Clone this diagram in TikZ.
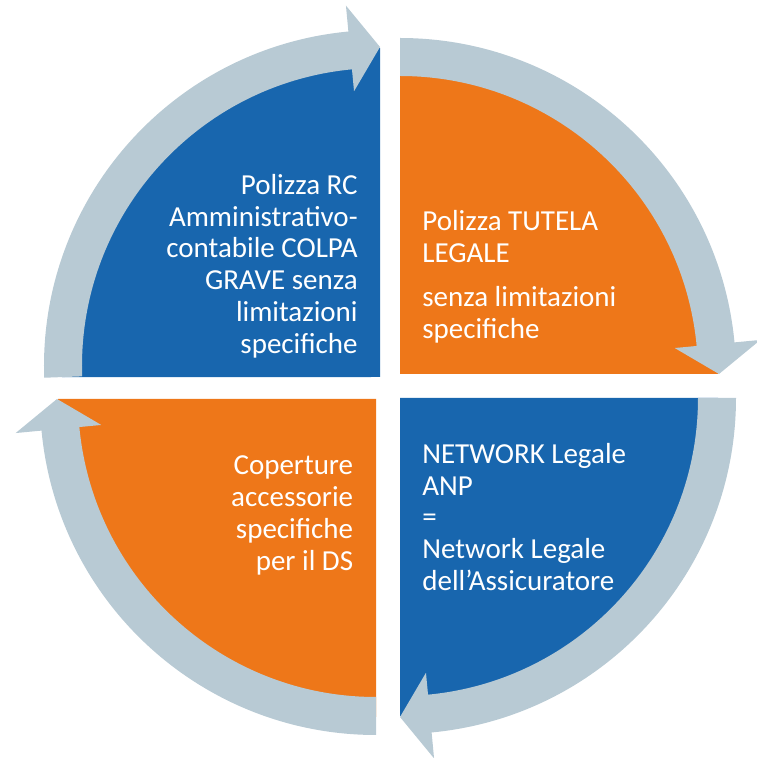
\documentclass[tikz,border=0pt]{standalone}
\usepackage{fontspec}
\setmainfont{Carlito}
\usetikzlibrary{calc}
\definecolor{quadblue}{HTML}{1866AE}
\definecolor{quadorange}{HTML}{EE7719}
\definecolor{ringgray}{HTML}{B8CAD4}
\tikzset{
  ring/.style={fill=ringgray},
  quadtext/.style={text=white, inner sep=0pt, font=\fontsize{16.5}{18.1}\selectfont},
}
\begin{document}
\begin{tikzpicture}[x=0.02cm, y=0.02cm]
    \useasboundingbox (0,0) rectangle (757,758);
    % quadrants
    \foreach \kx/\ky/\cx/\cy/\s/\t/\col in {380/381/380/392/182/90/quadblue, 400/384/400/384/90/0/quadorange, 400/360/400/360/0/-90/quadblue, 376/359/376/359/270/180/quadorange}
        \fill[\col] (\kx,\ky) -- ($(\cx,\cy)+(\s:318)$) arc[start angle=\s, end angle=\t, radius=318] -- cycle;
    % arrows round the quadrants
    \foreach \cx/\cy/\s/\t in {380/392/182/90, 400/384/90/0, 400/360/0/-90, 376/359/270/180}{
        \pgfmathsetmacro{\b}{\t+5.4}
        \fill[ring] ($(\cx,\cy)+(\s:336)$) arc[start angle=\s, end angle=\b, radius=336]
            -- ($(\cx,\cy)+(\b:362)$) -- ($(\cx,\cy)+(\t:319)$) -- ($(\cx,\cy)+(\b:276)$)
            -- ($(\cx,\cy)+(\b:298)$) arc[start angle=\b, end angle=\s, radius=298] -- cycle;
    }
    \node[quadtext, anchor=east, align=right] (rcpolicy) at (358,492) {Polizza RC\\Amministrativo-\\contabile COLPA\\GRAVE senza\\limitazioni\\specifiche};
    \node[quadtext, anchor=west, align=left] (legalpolicy) at (422,481.5) {Polizza TUTELA\\LEGALE\\[7pt]senza limitazioni\\specifiche};
    \node[quadtext, anchor=west, align=left] (network) at (422,241) {NETWORK Legale\\ANP\\=\\Network Legale\\dell’Assicuratore};
    \node[quadtext, anchor=east, align=right] (extras) at (353.5,242.5) {Coperture\\accessorie\\specifiche\\per il DS};
\end{tikzpicture}
\end{document}
